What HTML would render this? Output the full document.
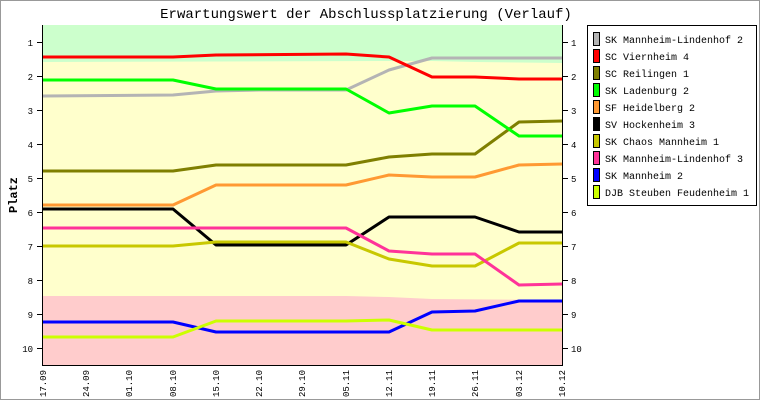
<!DOCTYPE html>
<html><head><style>body{margin:0;background:#fff}svg{display:block}text{font-family:"Liberation Mono","DejaVu Sans Mono",monospace}</style></head><body>
<svg width="760" height="400" viewBox="0 0 760 400">
<rect x="0.5" y="0.5" width="759" height="399" fill="#fff" stroke="#999"/>
<text x="366" y="18" font-size="14" text-anchor="middle">Erwartungswert der Abschlussplatzierung (Verlauf)</text>
<rect x="43" y="25" width="519" height="340" fill="#ffffcc"/>
<polygon points="43,25 562,25 562,63 475,62 432,61 389,61 43,62" fill="#ccffcc"/>
<polygon points="43,296 346,296 389,297 432,299 562,300 562,365 43,365" fill="#ffcccc"/>
<g fill="none" stroke-width="3" stroke-linejoin="round">
<polyline stroke="#b4b4b4" points="43,96 173,95 216,91 259,90 346,90 389,70 432,58 475,58 519,58 562,58"/>
<polyline stroke="#ff0000" points="43,57 173,57 216,55 346,54 389,57 432,77 475,77 519,79 562,79"/>
<polyline stroke="#7f7f00" points="43,171 173,171 216,165 346,165 389,157 432,154 475,154 519,122 562,121"/>
<polyline stroke="#00ff00" points="43,80 173,80 216,89 346,89 389,113 432,106 475,106 519,136 562,136"/>
<polyline stroke="#ff9933" points="43,205 173,205 216,185 346,185 389,175 432,177 475,177 519,165 562,164"/>
<polyline stroke="#000000" points="43,209 173,209 216,245 346,245 389,217 475,217 519,232 562,232"/>
<polyline stroke="#c8c800" points="43,246 173,246 216,242 346,242 389,259 432,266 475,266 519,243 562,243"/>
<polyline stroke="#ff3399" points="43,228 346,228 389,251 432,254 475,254 519,285 562,284"/>
<polyline stroke="#0000ff" points="43,322 173,322 216,332 389,332 432,312 475,311 519,301 562,301"/>
<polyline stroke="#ccff00" points="43,337 173,337 216,321 346,321 389,320 432,330 562,330"/>
</g>
<g stroke="#000" stroke-width="1">
<line x1="42.5" y1="25" x2="42.5" y2="366"/><line x1="562.5" y1="25" x2="562.5" y2="366"/><line x1="42" y1="365.5" x2="563" y2="365.5"/>
<line x1="37" y1="42.5" x2="43" y2="42.5"/><line x1="37" y1="76.5" x2="43" y2="76.5"/><line x1="37" y1="110.5" x2="43" y2="110.5"/><line x1="37" y1="144.5" x2="43" y2="144.5"/><line x1="37" y1="178.5" x2="43" y2="178.5"/><line x1="37" y1="212.5" x2="43" y2="212.5"/><line x1="37" y1="246.5" x2="43" y2="246.5"/><line x1="37" y1="280.5" x2="43" y2="280.5"/><line x1="37" y1="314.5" x2="43" y2="314.5"/><line x1="37" y1="348.5" x2="43" y2="348.5"/>
<line x1="562" y1="42.5" x2="568" y2="42.5"/><line x1="562" y1="76.5" x2="568" y2="76.5"/><line x1="562" y1="110.5" x2="568" y2="110.5"/><line x1="562" y1="144.5" x2="568" y2="144.5"/><line x1="562" y1="178.5" x2="568" y2="178.5"/><line x1="562" y1="212.5" x2="568" y2="212.5"/><line x1="562" y1="246.5" x2="568" y2="246.5"/><line x1="562" y1="280.5" x2="568" y2="280.5"/><line x1="562" y1="314.5" x2="568" y2="314.5"/><line x1="562" y1="348.5" x2="568" y2="348.5"/>
</g>
<g font-size="9" text-anchor="end">
<text x="33" y="46">1</text><text x="33" y="80">2</text><text x="33" y="114">3</text><text x="33" y="148">4</text><text x="33" y="182">5</text><text x="33" y="216">6</text><text x="33" y="250">7</text><text x="33" y="284">8</text><text x="33" y="318">9</text><text x="33" y="352">10</text>
</g>
<g font-size="9">
<text x="571" y="46">1</text><text x="571" y="80">2</text><text x="571" y="114">3</text><text x="571" y="148">4</text><text x="571" y="182">5</text><text x="571" y="216">6</text><text x="571" y="250">7</text><text x="571" y="284">8</text><text x="571" y="318">9</text><text x="571" y="352">10</text>
</g>
<text x="17" y="195" font-size="12" font-weight="bold" transform="rotate(-90 17 195)" text-anchor="middle">Platz</text>
<g font-size="9" text-anchor="end">
<text transform="translate(46,370) rotate(-90)">17.09</text>
<text transform="translate(89,370) rotate(-90)">24.09</text>
<text transform="translate(132,370) rotate(-90)">01.10</text>
<text transform="translate(176,370) rotate(-90)">08.10</text>
<text transform="translate(219,370) rotate(-90)">15.10</text>
<text transform="translate(262,370) rotate(-90)">22.10</text>
<text transform="translate(305,370) rotate(-90)">29.10</text>
<text transform="translate(349,370) rotate(-90)">05.11</text>
<text transform="translate(392,370) rotate(-90)">12.11</text>
<text transform="translate(435,370) rotate(-90)">19.11</text>
<text transform="translate(478,370) rotate(-90)">26.11</text>
<text transform="translate(522,370) rotate(-90)">03.12</text>
<text transform="translate(565,370) rotate(-90)">10.12</text>
</g>
<rect x="587.5" y="25.5" width="169" height="180" fill="#fff" stroke="#000"/>
<g stroke="#000" stroke-width="1">
<rect x="593.5" y="32.5" width="6" height="13" fill="#b4b4b4"/>
<rect x="593.5" y="49.5" width="6" height="13" fill="#ff0000"/>
<rect x="593.5" y="66.5" width="6" height="13" fill="#7f7f00"/>
<rect x="593.5" y="83.5" width="6" height="13" fill="#00ff00"/>
<rect x="593.5" y="100.5" width="6" height="13" fill="#ff9933"/>
<rect x="593.5" y="117.5" width="6" height="13" fill="#000000"/>
<rect x="593.5" y="134.5" width="6" height="13" fill="#c8c800"/>
<rect x="593.5" y="151.5" width="6" height="13" fill="#ff3399"/>
<rect x="593.5" y="168.5" width="6" height="13" fill="#0000ff"/>
<rect x="593.5" y="185.5" width="6" height="13" fill="#ccff00"/>
</g>
<g font-size="10">
<text x="605" y="43">SK Mannheim-Lindenhof 2</text>
<text x="605" y="60">SC Viernheim 4</text>
<text x="605" y="77">SC Reilingen 1</text>
<text x="605" y="94">SK Ladenburg 2</text>
<text x="605" y="111">SF Heidelberg 2</text>
<text x="605" y="128">SV Hockenheim 3</text>
<text x="605" y="145">SK Chaos Mannheim 1</text>
<text x="605" y="162">SK Mannheim-Lindenhof 3</text>
<text x="605" y="179">SK Mannheim 2</text>
<text x="605" y="196">DJB Steuben Feudenheim 1</text>
</g>
</svg>
</body></html>
